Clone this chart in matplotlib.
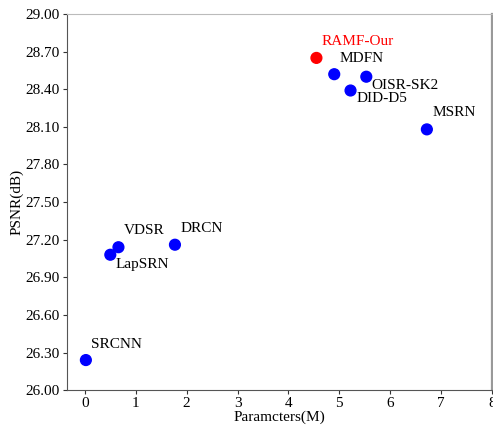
import matplotlib
matplotlib.use("Agg")
import matplotlib.pyplot as plt

names = ["SRCNN", "LapSRN", "VDSR", "DRCN", "RAMF-Our", "MDFN", "OISR-SK2", "DID-D5", "MSRN"]
params = [0.02, 0.50, 0.66, 1.77, 4.55, 4.90, 5.53, 5.22, 6.72]
psnr = [26.24, 27.08, 27.14, 27.16, 28.65, 28.52, 28.50, 28.39, 28.08]
colors = ["blue"] * 4 + ["red"] + ["blue"] * 4
# label offsets in points
offsets = [(4, 11), (4, -7), (4, 12), (4, 12), (4, 11.5), (4, 11.5), (4, -6), (4, -6), (4, 12)]
label_colors = ["black"] * 4 + ["red"] + ["black"] * 4
yticks = [26.00, 26.30, 26.60, 26.90, 27.20, 27.50, 27.80, 28.10, 28.40, 28.70, 29.00]
xticks = [0, 1, 2, 3, 4, 5, 6, 7, 8]

plt.rcParams['font.family'] = ['Liberation Serif', 'DejaVu Serif']
fig = plt.figure(figsize=(4.93, 4.25), dpi=100)
ax = fig.add_axes([0.136, 0.082, 0.862, 0.885])

ax.scatter(params, psnr, s=60, c=colors, zorder=3)
for n, x, y, off, lc in zip(names, params, psnr, offsets, label_colors):
    ax.annotate(n, (x, y), xytext=off, textcoords="offset points", fontsize=11,
                color=lc, ha="left", va="center")

ax.set_xlim(-0.35, 8.0)
ax.set_ylim(26.0, 29.0)
ax.set_xticks(xticks)
ax.set_yticks(yticks)
ax.set_yticklabels([f"{v:.2f}" for v in yticks])
ax.tick_params(labelsize=11, length=3, direction="out", colors="#333333", labelcolor="black", pad=2)
ax.set_xlabel("Paramcters(M)", fontsize=11, labelpad=0)
ax.set_ylabel("PSNR(dB)", fontsize=11, labelpad=2)

ax.spines['left'].set_color("#555555")
ax.spines['bottom'].set_color("#555555")
ax.spines['top'].set_color("#bbbbbb")
ax.spines['right'].set_color("#999999")
ax.spines['right'].set_linewidth(1.6)

fig.savefig("out.png", dpi=100)
